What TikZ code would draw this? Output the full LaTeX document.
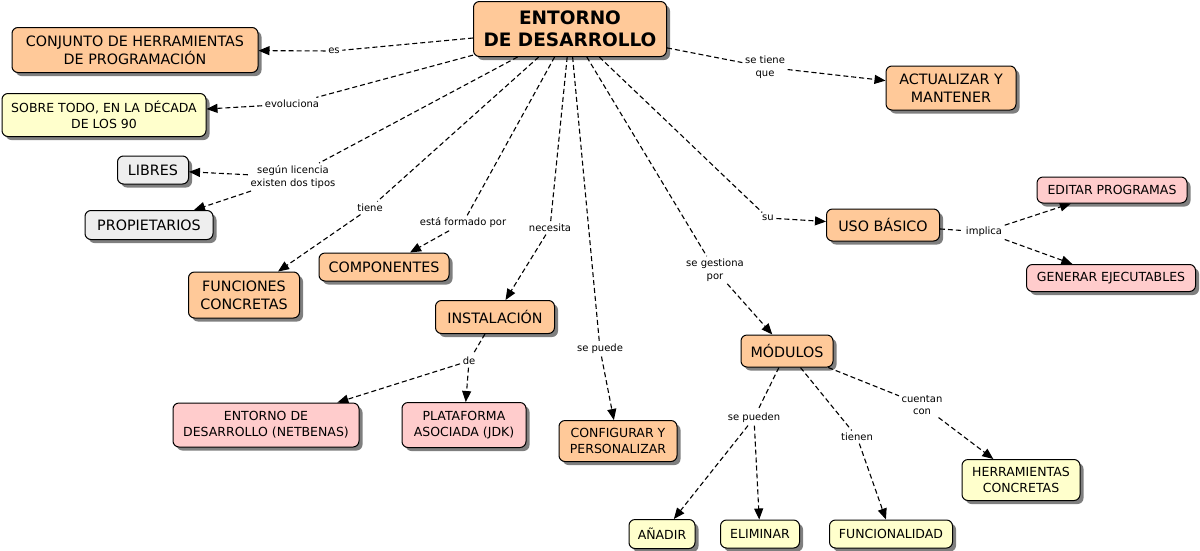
\documentclass[tikz,border=0pt]{standalone}
\usepackage{fontspec}
\setmainfont{DejaVu Sans}
\usetikzlibrary{arrows.meta,shadows,backgrounds}
\definecolor{peach}{RGB}{255,201,153}
\definecolor{lightyel}{RGB}{255,255,204}
\definecolor{pinkish}{RGB}{255,204,204}
\definecolor{lightgr}{RGB}{238,238,238}
\tikzset{
  base/.style={draw=black, line width=1pt, rounded corners=6pt, align=center, inner sep=2pt,
    drop shadow={shadow xshift=3.5pt, shadow yshift=-3.5pt, opacity=0.5, fill=black}},
  big/.style={font=\fontsize{14.3}{18}\selectfont},
  small/.style={font=\fontsize{12.5}{16}\selectfont},
  orangebox/.style={base, fill=peach},
  yelbox/.style={base, fill=lightyel},
  pinkbox/.style={base, fill=pinkish},
  graybox/.style={base, fill=lightgr},
  sz/.style 2 args={minimum width=#1pt, minimum height=#2pt},
  lab/.style={font=\fontsize{10}{12.5}\selectfont, inner sep=2.5pt, align=center},
  conn/.style={line width=1.1pt, dash pattern=on 5pt off 3pt},
  arr/.style={conn, -{Triangle[length=11pt,width=9pt]}}
}
\begin{document}
\begin{tikzpicture}[x=1pt,y=-1pt]
\useasboundingbox (0,0) rectangle (1200,550);
% boxes
\node[orangebox, sz={193}{55}, font=\fontsize{18.5}{22}\selectfont\bfseries] (main) at (570,29) {ENTORNO\\DE DESARROLLO};
\node[orangebox, big, sz={246}{45}] (conj) at (135,50) {CONJUNTO DE HERRAMIENTAS\\DE PROGRAMACIÓN};
\node[yelbox, small, sz={204}{43}] (sobre) at (104,115) {SOBRE TODO, EN LA DÉCADA\\DE LOS 90};
\node[graybox, big, sz={71}{28}] (libres) at (153,170) {LIBRES};
\node[graybox, big, sz={128}{29}] (prop) at (149,225) {PROPIETARIOS};
\node[orangebox, big, sz={111}{46}] (func) at (244,295) {FUNCIONES\\CONCRETAS};
\node[orangebox, big, sz={130}{28}] (comp) at (384,267) {COMPONENTES};
\node[orangebox, big, sz={119}{33}] (inst) at (495,317) {INSTALACIÓN};
\node[pinkbox, small, sz={186}{44}] (netb) at (266,425) {ENTORNO DE\\DESARROLLO (NETBENAS)};
\node[pinkbox, small, sz={124}{45}] (jdk) at (464,425) {PLATAFORMA\\ASOCIADA (JDK)};
\node[orangebox, small, sz={118}{41}] (config) at (618,441) {CONFIGURAR Y\\PERSONALIZAR};
\node[orangebox, big, sz={92}{32}] (mod) at (787,351) {MÓDULOS};
\node[yelbox, small, sz={66}{29}] (anadir) at (662,534) {AÑADIR};
\node[yelbox, small, sz={79}{28}] (elim) at (760,534) {ELIMINAR};
\node[yelbox, small, sz={123}{28}] (funcional) at (891,534) {FUNCIONALIDAD};
\node[yelbox, small, sz={118}{41}] (herr) at (1021,480) {HERRAMIENTAS\\CONCRETAS};
\node[orangebox, big, sz={113}{32}] (uso) at (883,225) {USO BÁSICO};
\node[pinkbox, small, sz={150}{26}] (editar) at (1112,190) {EDITAR PROGRAMAS};
\node[pinkbox, small, sz={169}{27}] (generar) at (1111,278) {GENERAR EJECUTABLES};
\node[orangebox, big, sz={130}{44}] (act) at (951,88) {ACTUALIZAR Y\\MANTENER};
% link labels
\node[lab] (es) at (334,51) {es};
\node[lab] (evol) at (292,104) {evoluciona};
\node[lab] (lic) at (293,177) {según licencia\\existen dos tipos};
\node[lab] (tiene) at (370,208) {tiene};
\node[lab] (formado) at (463,223) {está formado por};
\node[lab] (necesita) at (550,228) {necesita};
\node[lab] (sepuede) at (600,349) {se puede};
\node[lab] (gestiona) at (715,270) {se gestiona\\por};
\node[lab] (su) at (768,218) {su};
\node[lab] (setiene) at (765,67) {se tiene\\que};
\node[lab] (implica) at (984,232) {implica};
\node[lab] (de) at (469,361) {de};
\node[lab] (sepueden) at (754,418) {se pueden};
\node[lab] (tienen) at (857,437) {tienen};
\node[lab] (cuentan) at (922,405) {cuentan\\con};
% connectors
\begin{scope}[on background layer]
\draw[conn] (main) -- (es);       \draw[arr] (es) -- (conj);
\draw[conn] (main) -- (evol);     \draw[arr] (evol) -- (sobre);
\draw[conn] (main) -- (lic);      \draw[arr] (lic) -- (libres); \draw[arr] (lic) -- (prop);
\draw[conn] (main) -- (tiene);    \draw[arr] (tiene) -- (func);
\draw[conn] (main) -- (formado);  \draw[arr] (formado) -- (comp);
\draw[conn] (main) -- (necesita); \draw[arr] (necesita) -- (inst);
\draw[conn] (main) -- (sepuede);  \draw[arr] (sepuede) -- (config);
\draw[conn] (main) -- (gestiona); \draw[arr] (gestiona) -- (mod);
\draw[conn] (main) -- (su);       \draw[arr] (su) -- (uso);
\draw[conn] (main) -- (setiene);  \draw[arr] (setiene) -- (act);
\draw[conn] (uso) -- (implica);   \draw[arr] (implica) -- (editar); \draw[arr] (implica) -- (generar);
\draw[conn] (inst) -- (de);       \draw[arr] (de) -- (netb); \draw[arr] (de) -- (jdk);
\draw[conn] (mod) -- (sepueden);  \draw[arr] (sepueden) -- (anadir); \draw[arr] (sepueden) -- (elim);
\draw[conn] (mod) -- (tienen);    \draw[arr] (tienen) -- (funcional);
\draw[conn] (mod) -- (cuentan);   \draw[arr] (cuentan) -- (herr);
\end{scope}
\end{tikzpicture}
\end{document}
